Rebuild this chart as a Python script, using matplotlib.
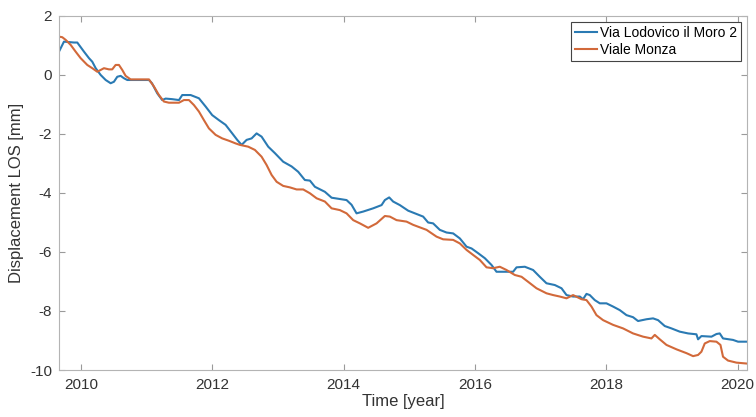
import matplotlib

matplotlib.use("Agg")
import matplotlib.pyplot as plt

plt.rcParams["font.family"] = ["Liberation Sans", "DejaVu Sans"]
plt.rcParams["axes.unicode_minus"] = False

# Via Lodovico il Moro 2
years_lodovico = [
    2009.665, 2009.741, 2009.893, 2009.944, 2009.970, 2010.046, 2010.122, 2010.172,
    2010.224, 2010.300, 2010.376, 2010.452, 2010.502, 2010.553, 2010.604, 2010.654,
    2010.705, 2011.035, 2011.081, 2011.161, 2011.237, 2011.289, 2011.390, 2011.492,
    2011.542, 2011.670, 2011.796, 2011.898, 2011.998, 2012.100, 2012.202, 2012.303,
    2012.379, 2012.446, 2012.522, 2012.598, 2012.674, 2012.750, 2012.851, 2012.953,
    2013.079, 2013.207, 2013.307, 2013.409, 2013.486, 2013.562, 2013.714, 2013.816,
    2014.044, 2014.120, 2014.196, 2014.297, 2014.449, 2014.577, 2014.627, 2014.693,
    2014.753, 2014.855, 2014.982, 2015.210, 2015.286, 2015.362, 2015.464, 2015.566,
    2015.667, 2015.769, 2015.871, 2015.947, 2016.047, 2016.149, 2016.251, 2016.327,
    2016.580, 2016.632, 2016.758, 2016.884, 2016.986, 2017.088, 2017.215, 2017.317,
    2017.393, 2017.493, 2017.595, 2017.645, 2017.697, 2017.747, 2017.823, 2017.900,
    2018.001, 2018.102, 2018.204, 2018.306, 2018.406, 2018.482, 2018.610, 2018.711,
    2018.787, 2018.889, 2018.991, 2019.117, 2019.244, 2019.371, 2019.396, 2019.447,
    2019.600, 2019.676, 2019.726, 2019.776, 2019.928, 2020.005, 2020.133,
]
disp_lodovico = [
    0.79, 1.13, 1.10, 1.10, 1.02, 0.79, 0.57, 0.45,
    0.23, 0.00, -0.17, -0.28, -0.23, -0.06, -0.03, -0.11,
    -0.17, -0.17, -0.28, -0.62, -0.85, -0.80, -0.82, -0.85,
    -0.68, -0.68, -0.79, -1.07, -1.36, -1.53, -1.69, -1.98,
    -2.20, -2.37, -2.20, -2.15, -1.98, -2.09, -2.43, -2.65,
    -2.94, -3.10, -3.28, -3.56, -3.58, -3.79, -3.96, -4.16,
    -4.24, -4.40, -4.69, -4.63, -4.52, -4.41, -4.24, -4.15,
    -4.29, -4.41, -4.60, -4.80, -5.00, -5.03, -5.25, -5.34,
    -5.37, -5.54, -5.82, -5.88, -6.04, -6.21, -6.44, -6.67,
    -6.67, -6.52, -6.50, -6.61, -6.84, -7.06, -7.12, -7.23,
    -7.46, -7.51, -7.51, -7.60, -7.42, -7.46, -7.63, -7.74,
    -7.74, -7.85, -7.97, -8.14, -8.21, -8.34, -8.28, -8.25,
    -8.31, -8.51, -8.59, -8.70, -8.76, -8.79, -8.96, -8.85,
    -8.87, -8.78, -8.76, -8.93, -8.98, -9.04, -9.04,
]

# Viale Monza
years_monza = [
    2009.665, 2009.715, 2009.767, 2009.843, 2009.919, 2009.995, 2010.096, 2010.172,
    2010.248, 2010.300, 2010.350, 2010.426, 2010.476, 2010.528, 2010.578, 2010.629,
    2010.680, 2010.756, 2011.035, 2011.111, 2011.187, 2011.263, 2011.339, 2011.492,
    2011.568, 2011.644, 2011.720, 2011.796, 2011.872, 2011.948, 2012.050, 2012.151,
    2012.253, 2012.355, 2012.420, 2012.546, 2012.648, 2012.750, 2012.826, 2012.903,
    2012.979, 2013.079, 2013.181, 2013.283, 2013.384, 2013.486, 2013.588, 2013.714,
    2013.816, 2013.942, 2014.044, 2014.145, 2014.247, 2014.373, 2014.501, 2014.627,
    2014.703, 2014.805, 2014.957, 2015.058, 2015.262, 2015.414, 2015.514, 2015.667,
    2015.769, 2015.871, 2015.971, 2016.073, 2016.175, 2016.275, 2016.377, 2016.479,
    2016.606, 2016.708, 2016.808, 2016.936, 2017.088, 2017.189, 2017.291, 2017.393,
    2017.493, 2017.621, 2017.697, 2017.773, 2017.849, 2017.950, 2018.102, 2018.254,
    2018.406, 2018.559, 2018.686, 2018.737, 2018.813, 2018.915, 2019.068, 2019.221,
    2019.320, 2019.396, 2019.447, 2019.498, 2019.574, 2019.676, 2019.737, 2019.776,
    2019.852, 2019.980, 2020.133,
]
disp_monza = [
    1.30, 1.28, 1.19, 1.02, 0.79, 0.57, 0.34, 0.23,
    0.11, 0.17, 0.23, 0.19, 0.19, 0.34, 0.34, 0.17,
    -0.03, -0.15, -0.15, -0.39, -0.68, -0.90, -0.94, -0.94,
    -0.85, -0.85, -1.02, -1.24, -1.53, -1.81, -2.03, -2.15,
    -2.23, -2.32, -2.37, -2.43, -2.54, -2.77, -3.05, -3.39,
    -3.62, -3.76, -3.81, -3.88, -3.88, -4.01, -4.18, -4.29,
    -4.52, -4.58, -4.69, -4.92, -5.03, -5.18, -5.03, -4.78,
    -4.80, -4.92, -4.97, -5.08, -5.25, -5.48, -5.57, -5.59,
    -5.71, -5.93, -6.10, -6.27, -6.52, -6.55, -6.50, -6.61,
    -6.78, -6.84, -7.01, -7.23, -7.40, -7.46, -7.51, -7.57,
    -7.46, -7.60, -7.63, -7.85, -8.14, -8.31, -8.47, -8.59,
    -8.76, -8.87, -8.93, -8.81, -8.96, -9.15, -9.30, -9.43,
    -9.53, -9.49, -9.38, -9.10, -9.02, -9.04, -9.15, -9.55,
    -9.68, -9.75, -9.78,
]

x_ticks = [2010, 2012, 2014, 2016, 2018, 2020]
y_ticks = [2, 0, -2, -4, -6, -8, -10]

fig = plt.figure(figsize=(7.56, 4.17), dpi=100)
fig.patch.set_facecolor("white")
ax = fig.add_axes([0.078, 0.1127, 0.910, 0.849])

ax.plot(years_lodovico, disp_lodovico, color="#2a7ab3", lw=1.5, label="Via Lodovico il Moro 2")
ax.plot(years_monza, disp_monza, color="#d2693a", lw=1.5, label="Viale Monza")

ax.set_xlim(2009.665, 2020.14)
ax.set_ylim(-10, 2)
ax.set_xticks(x_ticks)
ax.set_yticks(y_ticks)

for s in ax.spines.values():
    s.set_color("#b4b4b4")
    s.set_linewidth(0.8)
ax.tick_params(direction="in", length=4, width=0.8, color="#9a9a9a",
               labelcolor="#333333", labelsize=11, top=True, right=True)
ax.tick_params(axis="x", pad=6)
ax.tick_params(axis="y", pad=5)

ax.set_xlabel("Time [year]", fontsize=12, color="#333333", labelpad=1)
ax.set_ylabel("Displacement LOS [mm]", fontsize=12, color="#333333", labelpad=4)

leg = ax.legend(loc="upper right", fontsize=10, handlelength=1.6, handletextpad=0.2,
                borderpad=0.3, labelspacing=0.25, borderaxespad=0.4, fancybox=False,
                framealpha=1)
leg.get_frame().set_edgecolor("#444444")
leg.get_frame().set_linewidth(0.8)

fig.savefig("out.png", dpi=100, facecolor="white")
